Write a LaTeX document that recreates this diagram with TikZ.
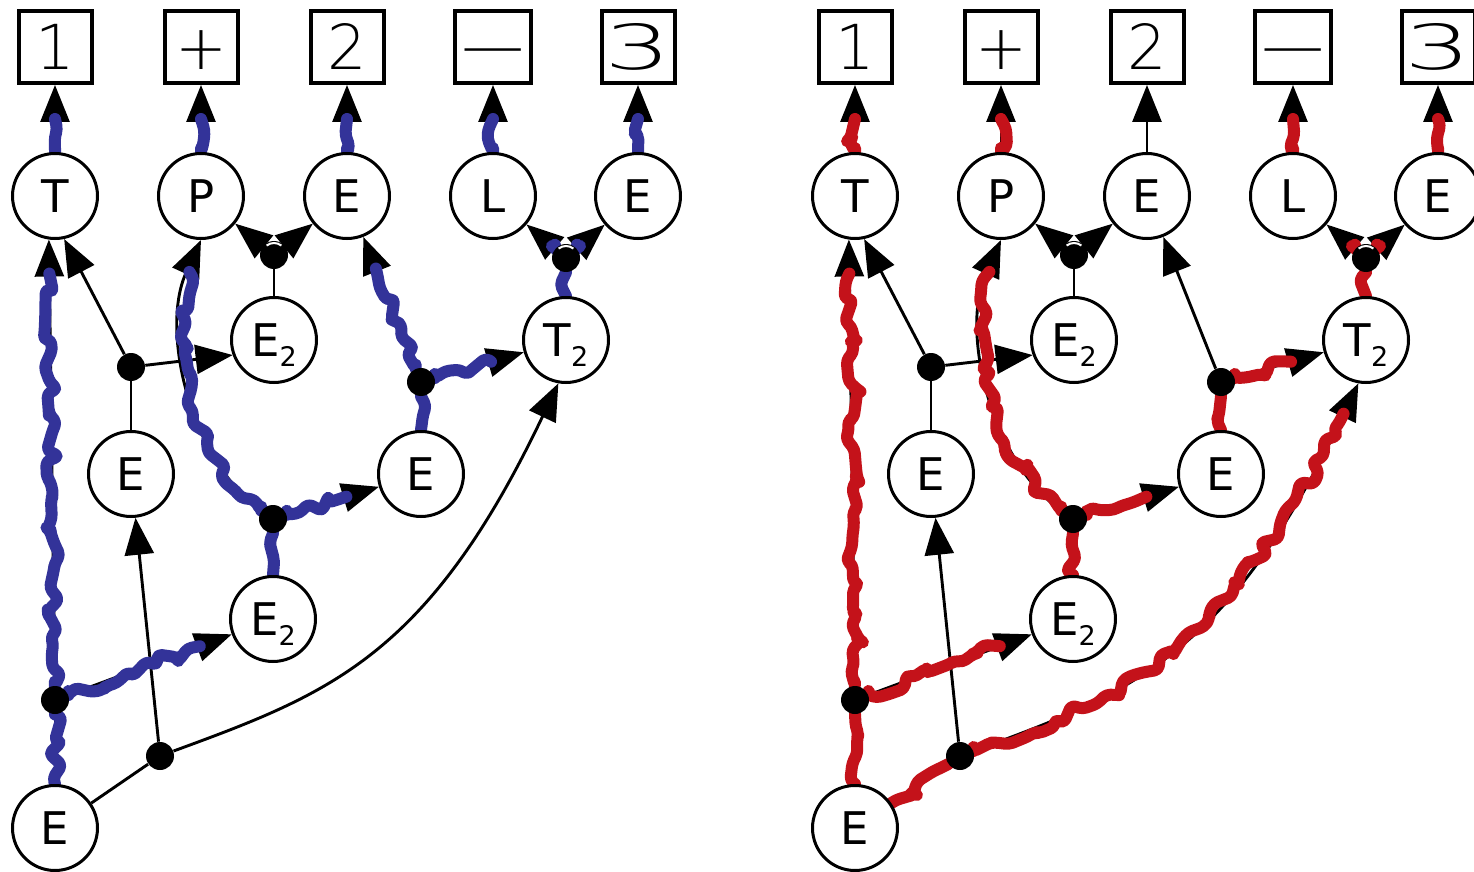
\documentclass[tikz,border=0pt]{standalone}
\usepackage{fontspec}
\usepackage{graphicx}
\usetikzlibrary{arrows.meta,decorations.pathmorphing}

\newfontfamily\lblfont{DejaVu Sans}
\newfontfamily\handfont{DejaVuSans-ExtraLight.ttf}

\definecolor{hlblue}{RGB}{51,51,153}
\definecolor{hlred}{RGB}{196,18,26}

\pgfdeclarelayer{back}
\pgfsetlayers{back,main}

\newcommand\subtwo{\raisebox{-5pt}{\fontsize{13.5}{14}\selectfont 2}}

\tikzset{
  state/.style={circle, draw, line width=1.5pt, fill=white, minimum size=42.5pt,
    inner sep=0pt, font=\lblfont\fontsize{22.5}{24}\selectfont,
    text height=16.4pt, text depth=0pt},
  glyph/.style={rectangle, draw, line width=2pt, fill=white,
    minimum width=36.5pt, minimum height=36pt, inner sep=0pt,
    font=\handfont\fontsize{31}{31}\selectfont, text height=23pt, text depth=0pt},
  hub/.style={circle, fill=black, minimum size=14pt, inner sep=0pt},
  link/.style={line width=1.45pt},
  arr/.style={link, -{Triangle[length=18.5pt,width=14.5pt]}},
  gap/.style={white, line width=1pt},
  hl/.style={draw=#1, line width=6pt, line cap=round, line join=round,
    rounded corners=2pt, decorate,
    decoration={random steps, segment length=5pt, amplitude=3.5pt}},
  hl/.default=black,
  hlto/.style={hl=#1, decoration={post=moveto, post length=17pt}},
  hlto/.default=black,
}

% one parse forest: terminals, states, hyperedge hubs and their edges
\newcommand\forestpanel[1]{%
  \node[glyph] (#1b1) at (55,47) {1};
  \node[glyph] (#1b2) at (201,47) {+};
  \node[glyph] (#1b3) at (347,47) {2};
  \node[glyph] (#1b4) at (493,47) {\scalebox{1.45}[1]{−}};
  \node[glyph] (#1b5) at (638,47) {\scalebox{1.7}[1]{3}};
  \node[state] (#1T) at (55,196) {T};
  \node[state] (#1P) at (201,196) {P};
  \node[state] (#1E) at (347,196) {E};
  \node[state] (#1L) at (493,196) {L};
  \node[state] (#1F) at (638,196) {E};
  \node[state] (#1Ga) at (274,340) {E\subtwo};
  \node[state] (#1U) at (566,340) {T\subtwo};
  \node[state] (#1Ha) at (131,474) {E};
  \node[state] (#1Hb) at (421,474) {E};
  \node[state] (#1Gb) at (273,619) {E\subtwo};
  \node[state] (#1R) at (55,828) {E};
  \node[hub] (#1d1) at (274,255) {};
  \node[hub] (#1d2) at (131,367) {};
  \node[hub] (#1d3) at (421,382) {};
  \node[hub] (#1d4) at (566,258) {};
  \node[hub] (#1d5) at (273,519) {};
  \node[hub] (#1d6) at (55,700) {};
  \node[hub] (#1d7) at (160,756) {};
  % thin white rims where the two arrow tails meet a hub
  \draw[gap] (#1d1) ++(232:12) arc[start angle=232, end angle=308, radius=12];
  \draw[gap] (#1d4) ++(232:12) arc[start angle=232, end angle=308, radius=12];
  \begin{pgfonlayer}{back}
    \draw[arr] (#1T) -- (#1b1);
    \draw[arr] (#1P) -- (#1b2);
    \draw[arr] (#1E) -- (#1b3);
    \draw[arr] (#1L) -- (#1b4);
    \draw[arr] (#1F) -- (#1b5);
    \draw[link] (#1Ga) -- (#1d1);
    \draw[arr] (#1d1) -- (#1P);
    \draw[arr] (#1d1) -- (#1E);
    \draw[link] (#1Ha) -- (#1d2);
    \draw[arr] (#1d2) -- (#1T.282);
    \draw[arr] (#1d2) -- (#1Ga.200);
    \draw[link] (#1Hb) -- (#1d3);
    \draw[arr] (#1d3) -- (#1E);
    \draw[arr] (#1d3) -- (#1U);
    \draw[link] (#1U) -- (#1d4);
    \draw[arr] (#1d4) -- (#1L);
    \draw[arr] (#1d4) -- (#1F);
    \draw[link] (#1Gb) -- (#1d5);
    \draw[arr] (#1d5) .. controls (190,460) and (160,330) .. (#1P.south);
    \draw[arr] (#1d5) -- (#1Hb);
    \draw[link] (#1R) -- (#1d6);
    \draw[arr] (#1d6) -- (#1T.262);
    \draw[arr] (#1d6) -- (#1Gb);
    \draw[link] (#1R) -- (#1d7);
    \draw[arr] (#1d7) -- (#1Ha);
    \draw[arr] (#1d7) .. controls (329,694) and (428,657) .. (#1U.260);
  \end{pgfonlayer}
}

\begin{document}
\begin{tikzpicture}[x=0.5pt,y=-0.5pt]
\useasboundingbox (0,0) rectangle (1474,872);
\pgfmathsetseed{11}

% left forest, blue derivation
\begin{scope}
  \forestpanel{l}
  \begin{pgfonlayer}{back}
    \draw[hlto=hlblue] (lT) -- (lb1);
    \draw[hlto=hlblue] (lP) -- (lb2);
    \draw[hlto=hlblue] (lE) -- (lb3);
    \draw[hlto=hlblue] (lL) -- (lb4);
    \draw[hlto=hlblue] (lF) -- (lb5);
    \draw[hl=hlblue] (lU) -- (ld4);
    \draw[hlto=hlblue] (ld4) -- (lL);
    \draw[hlto=hlblue] (ld4) -- (lF);
    \draw[hl=hlblue] (lHb) -- (ld3);
    \draw[hlto=hlblue] (ld3) -- (lE);
    \draw[hlto=hlblue] (ld3) -- (lU);
    \draw[hl=hlblue] (lGb) -- (ld5);
    \draw[hlto=hlblue] (ld5) .. controls (190,460) and (160,330) .. (lP.south);
    \draw[hlto=hlblue] (ld5) -- (lHb);
    \draw[hl=hlblue] (lR) -- (ld6);
    \draw[hlto=hlblue] (ld6) -- (lT.262);
    \draw[hlto=hlblue] (ld6) -- (lGb);
  \end{pgfonlayer}
\end{scope}

% right forest, red derivation
\begin{scope}[shift={(800,0)}]
  \forestpanel{r}
  \begin{pgfonlayer}{back}
    \draw[hlto=hlred] (rT) -- (rb1);
    \draw[hlto=hlred] (rP) -- (rb2);
    \draw[hlto=hlred] (rL) -- (rb4);
    \draw[hlto=hlred] (rF) -- (rb5);
    \draw[hl=hlred] (rU) -- (rd4);
    \draw[hlto=hlred] (rd4) -- (rL);
    \draw[hlto=hlred] (rd4) -- (rF);
    \draw[hl=hlred] (rHb) -- (rd3);
    \draw[hlto=hlred] (rd3) -- (rU);
    \draw[hl=hlred] (rGb) -- (rd5);
    \draw[hlto=hlred] (rd5) .. controls (190,460) and (160,330) .. (rP.south);
    \draw[hlto=hlred] (rd5) -- (rHb);
    \draw[hl=hlred] (rR) -- (rd6);
    \draw[hlto=hlred] (rd6) -- (rT.262);
    \draw[hlto=hlred] (rd6) -- (rGb);
    \draw[hl=hlred] (rR) -- (rd7);
    \draw[hlto=hlred] (rd7) .. controls (329,694) and (428,657) .. (rU.260);
  \end{pgfonlayer}
\end{scope}
\end{tikzpicture}
\end{document}
